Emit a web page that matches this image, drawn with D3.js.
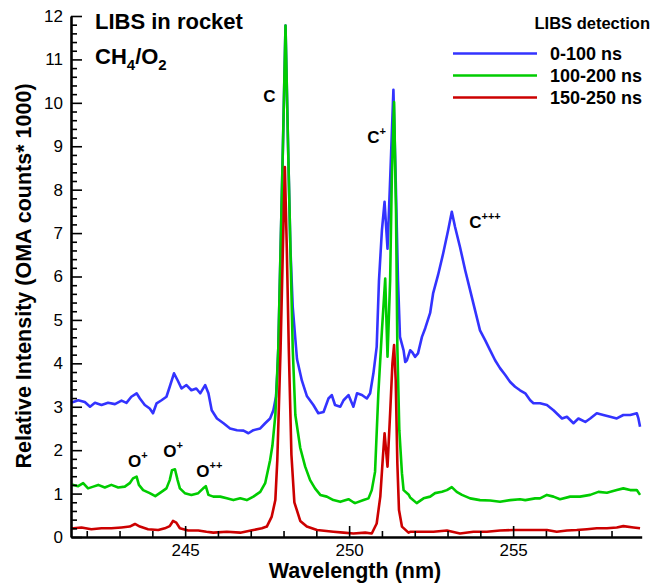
<!DOCTYPE html>
<html>
<head>
<meta charset="utf-8">
<script src="https://cdn.jsdelivr.net/npm/d3@7"></script>
<style>
  html, body { margin: 0; padding: 0; background: #fff; }
  svg { display: block; font-family: "Liberation Sans", Arial, sans-serif; }
</style>
</head>
<body>
<svg id="chart" width="654" height="583"></svg>
<script>
// Emission spectra, [wavelength (nm), intensity (OMA counts / 1000)]
const spectrum0to100 = [
  [241.52, 3.10], [241.59, 3.11], [241.74, 3.15], [241.94, 3.11], [242.10, 3.00],
  [242.25, 3.09], [242.45, 3.04], [242.65, 3.09], [242.86, 3.06], [243.06, 3.14],
  [243.21, 3.09], [243.36, 3.23], [243.52, 3.31], [243.62, 3.19], [243.77, 3.04],
  [243.92, 2.96], [244.02, 2.85], [244.13, 3.08], [244.28, 3.15], [244.43, 3.23],
  [244.53, 3.46], [244.66, 3.77], [244.77, 3.61], [244.89, 3.42], [245.04, 3.50],
  [245.19, 3.38], [245.34, 3.42], [245.46, 3.31], [245.61, 3.50], [245.71, 3.31],
  [245.81, 2.92], [245.97, 2.73], [246.17, 2.62], [246.37, 2.50], [246.58, 2.46],
  [246.78, 2.45], [246.93, 2.39], [247.08, 2.46], [247.29, 2.50], [247.44, 2.62],
  [247.59, 2.73], [247.69, 2.92], [247.77, 3.23], [247.81, 3.77], [247.84, 4.34],
  [247.91, 6.64], [247.98, 8.95], [248.06, 11.78], [248.14, 8.95], [248.21, 6.64],
  [248.28, 5.30], [248.41, 4.10],
  [248.56, 3.60], [248.71, 3.25], [248.91, 3.04], [249.06, 2.85], [249.22, 2.88],
  [249.37, 3.19], [249.47, 3.27], [249.57, 3.04], [249.73, 3.00], [249.83, 3.15],
  [249.98, 3.27], [250.13, 3.00], [250.24, 3.31], [250.39, 3.27], [250.54, 3.19],
  [250.64, 3.31], [250.74, 3.77], [250.84, 4.38], [250.91, 5.91], [251.00, 7.07],
  [251.08, 7.72], [251.17, 6.64], [251.25, 8.22], [251.35, 10.30], [251.42, 8.22],
  [251.49, 5.91], [251.55, 4.61], [251.66, 4.30], [251.71, 4.03], [251.76, 4.07],
  [251.86, 4.30], [251.93, 4.25], [252.01, 4.15], [252.10, 4.23], [252.22, 4.61],
  [252.32, 4.81], [252.47, 5.16], [252.56, 5.61], [252.71, 6.03], [252.87, 6.54],
  [253.02, 7.07], [253.13, 7.49], [253.23, 7.14], [253.38, 6.68], [253.54, 6.14],
  [253.69, 5.68], [253.84, 5.22], [253.99, 4.76], [254.15, 4.53], [254.30, 4.30],
  [254.45, 4.07], [254.60, 3.89], [254.76, 3.73], [254.91, 3.57], [255.06, 3.46],
  [255.21, 3.38], [255.37, 3.31], [255.52, 3.15], [255.62, 3.08], [255.82, 3.08],
  [256.03, 3.04], [256.23, 2.92], [256.49, 2.73], [256.64, 2.77], [256.84, 2.62],
  [256.99, 2.73], [257.20, 2.65], [257.35, 2.73], [257.55, 2.85], [257.75, 2.81],
  [257.96, 2.77], [258.16, 2.73], [258.36, 2.81], [258.57, 2.81], [258.77, 2.85],
  [258.82, 2.73], [258.87, 2.54]
];

const spectrum100to200 = [
  [241.52, 1.20], [241.59, 1.20], [241.74, 1.17], [241.89, 1.24], [242.04, 1.12],
  [242.20, 1.16], [242.35, 1.20], [242.55, 1.14], [242.75, 1.20], [242.96, 1.14],
  [243.16, 1.16], [243.31, 1.24], [243.41, 1.35], [243.52, 1.39], [243.59, 1.20],
  [243.72, 1.08], [243.92, 1.01], [244.09, 0.94], [244.28, 1.04], [244.43, 1.12],
  [244.53, 1.31], [244.60, 1.54], [244.69, 1.56], [244.77, 1.31], [244.84, 1.12],
  [244.99, 1.01], [245.19, 0.97], [245.40, 1.01], [245.55, 1.12], [245.63, 1.17],
  [245.71, 0.97], [245.86, 0.93], [246.07, 0.93], [246.27, 0.89], [246.47, 0.85],
  [246.68, 0.89], [246.88, 0.85], [247.08, 0.93], [247.29, 1.04], [247.44, 1.24],
  [247.59, 1.77], [247.66, 2.10], [247.75, 2.81], [247.84, 4.34], [247.91, 6.64],
  [247.98, 8.95], [248.06, 11.78], [248.14, 8.95], [248.21, 6.64], [248.28, 4.34],
  [248.36, 2.81], [248.51, 2.05], [248.66, 1.62], [248.81, 1.31], [248.96, 1.12],
  [249.12, 0.97], [249.32, 0.93], [249.52, 0.85], [249.73, 0.81], [249.98, 0.87],
  [250.13, 0.80], [250.18, 0.78], [250.44, 0.85], [250.59, 0.89], [250.69, 1.08],
  [250.79, 1.50], [250.89, 3.30], [251.00, 4.76], [251.10, 5.95], [251.17, 4.15],
  [251.25, 5.91], [251.30, 8.22], [251.37, 10.02], [251.43, 7.45], [251.47, 4.38],
  [251.53, 2.46], [251.61, 1.47], [251.66, 1.08], [251.81, 0.98], [251.86, 0.91],
  [252.06, 0.78], [252.27, 0.89], [252.47, 0.93], [252.62, 1.01], [252.83, 1.04],
  [252.98, 1.08], [253.13, 1.15], [253.28, 1.04], [253.44, 0.97], [253.69, 0.89],
  [253.99, 0.85], [254.30, 0.84], [254.60, 0.81], [254.91, 0.85], [255.21, 0.87],
  [255.37, 0.85], [255.67, 0.89], [255.82, 0.89], [256.03, 0.97], [256.23, 0.93],
  [256.43, 0.87], [256.74, 0.93], [257.04, 0.93], [257.35, 0.97], [257.60, 1.04],
  [257.86, 1.02], [258.16, 1.08], [258.36, 1.12], [258.57, 1.08], [258.77, 1.08],
  [258.87, 0.97]
];

const spectrum150to250 = [
  [241.52, 0.20], [241.59, 0.20], [241.84, 0.22], [242.14, 0.18], [242.45, 0.20],
  [242.75, 0.20], [243.06, 0.22], [243.31, 0.24], [243.47, 0.30], [243.62, 0.24],
  [243.87, 0.18], [244.18, 0.16], [244.38, 0.20], [244.53, 0.25], [244.63, 0.37],
  [244.73, 0.33], [244.84, 0.20], [245.09, 0.15], [245.40, 0.15], [245.65, 0.12],
  [245.86, 0.10], [246.27, 0.12], [246.68, 0.10], [247.08, 0.16], [247.34, 0.20],
  [247.49, 0.24], [247.64, 0.47], [247.75, 0.85], [247.81, 1.77], [247.91, 4.34],
  [247.98, 6.64], [248.04, 8.52], [248.10, 6.64], [248.16, 4.34], [248.24, 1.90],
  [248.33, 0.80], [248.51, 0.37], [248.71, 0.24], [249.02, 0.16], [249.52, 0.12],
  [249.83, 0.10], [250.13, 0.08], [250.49, 0.10], [250.69, 0.08], [250.84, 0.31],
  [250.95, 0.93], [251.03, 1.85], [251.08, 2.39], [251.17, 1.62], [251.25, 2.85],
  [251.32, 4.00], [251.37, 4.42], [251.42, 3.61], [251.47, 1.70], [251.52, 0.62],
  [251.61, 0.24], [251.81, 0.10], [251.86, 0.12], [252.16, 0.12], [252.57, 0.12],
  [252.98, 0.15], [253.38, 0.08], [253.79, 0.12], [254.20, 0.12], [254.60, 0.15],
  [255.01, 0.16], [255.42, 0.16], [255.82, 0.16], [256.03, 0.16], [256.33, 0.12],
  [256.64, 0.15], [256.94, 0.16], [257.25, 0.18], [257.55, 0.20], [257.86, 0.20],
  [258.16, 0.22], [258.36, 0.25], [258.67, 0.22], [258.87, 0.20]
];

const seriesNames = ["0-100 ns", "100-200 ns", "150-250 ns"];
const seriesData = [spectrum0to100, spectrum100to200, spectrum150to250];
const seriesColors = ["#3333ff", "#00cc00", "#cc0000"];

const xMajorTicks = [245, 250, 255];
const xMinorTicks = [242, 243, 244, 246, 247, 248, 249, 251, 252, 253, 254, 256, 257, 258];
const yMajorTicks = [0, 1, 2, 3, 4, 5, 6, 7, 8, 9, 10, 11, 12];
const yMinorTicks = d3.range(0, 60).map(i => i / 5).filter(v => !Number.isInteger(v));

// Peak annotations: base label, superscript, wavelength, intensity at baseline
const peakLabels = [
  { text: "C",  sup: "",    wl: 247.38, v: 10.03 },
  { text: "C",  sup: "+",   wl: 250.55, v: 9.07 },
  { text: "C",  sup: "+++", wl: 253.66, v: 7.12 },
  { text: "O",  sup: "+",   wl: 243.26, v: 1.62 },
  { text: "O",  sup: "+",   wl: 244.33, v: 1.84 },
  { text: "O",  sup: "++",  wl: 245.34, v: 1.39 }
];

const svg = d3.select("#chart");
const plotLeft = 71, plotRight = 641.7, plotTop = 16, plotBottom = 537;

const x = d3.scaleLinear().domain([241.52, 258.92]).range([plotLeft, plotRight]);
const y = d3.scaleLinear().domain([0, 12]).range([plotBottom, plotTop]);

svg.append("defs").append("clipPath").attr("id", "plotClip")
  .append("rect")
  .attr("x", plotLeft).attr("y", 0)
  .attr("width", plotRight - plotLeft).attr("height", plotBottom);

// Spectra
const line = d3.line().x(d => x(d[0])).y(d => y(d[1]));
const lines = svg.append("g").attr("clip-path", "url(#plotClip)");
seriesData.forEach((data, i) => {
  lines.append("path")
    .datum(data)
    .attr("fill", "none")
    .attr("stroke", seriesColors[i])
    .attr("stroke-width", 2.6)
    .attr("stroke-linejoin", "round")
    .attr("d", line);
});

// Axes (ticks pointing inward)
const axisStyle = g => {
  g.selectAll(".domain").attr("stroke", "#000").attr("stroke-width", 2.6);
  g.selectAll(".tick line").attr("stroke", "#000").attr("stroke-width", 1.6);
  g.selectAll("text").attr("fill", "#000").attr("font-size", 17)
    .attr("font-family", "'Liberation Sans', Arial, sans-serif");
};

svg.append("g")
  .attr("transform", `translate(0,${plotBottom})`)
  .call(d3.axisBottom(x).tickValues(xMinorTicks).tickSize(-6).tickSizeOuter(0).tickFormat(""))
  .call(g => g.select(".domain").remove())
  .call(axisStyle);

svg.append("g")
  .attr("transform", `translate(0,${plotBottom})`)
  .call(d3.axisBottom(x).tickValues(xMajorTicks).tickSize(-11).tickSizeOuter(0).tickPadding(7).tickFormat(d3.format("d")))
  .call(axisStyle);

svg.append("g")
  .attr("transform", `translate(${plotLeft},0)`)
  .call(d3.axisLeft(y).tickValues(yMinorTicks).tickSize(-6).tickSizeOuter(0).tickFormat(""))
  .call(g => g.select(".domain").remove())
  .call(axisStyle);

svg.append("g")
  .attr("transform", `translate(${plotLeft},0)`)
  .call(d3.axisLeft(y).tickValues(yMajorTicks).tickSize(-11).tickSizeOuter(0).tickPadding(8).tickFormat(d3.format("d")))
  .call(axisStyle);

// Axis titles
svg.append("text")
  .attr("x", 355).attr("y", 578)
  .attr("text-anchor", "middle")
  .attr("font-size", 21.5).attr("font-weight", "bold")
  .text("Wavelength (nm)");

svg.append("text")
  .attr("transform", "translate(31,276) rotate(-90)")
  .attr("text-anchor", "middle")
  .attr("font-size", 21.5).attr("font-weight", "bold")
  .text("Relative Intensity (OMA counts* 1000)");

// Title block
svg.append("text")
  .attr("x", 95).attr("y", 29)
  .attr("font-size", 22).attr("font-weight", "bold")
  .text("LIBS in rocket");

const formula = svg.append("text")
  .attr("x", 95).attr("y", 64)
  .attr("font-size", 22).attr("font-weight", "bold");
formula.append("tspan").text("CH");
formula.append("tspan").attr("font-size", 15).attr("dy", 6).text("4");
formula.append("tspan").attr("dy", -6).text("/O");
formula.append("tspan").attr("font-size", 15).attr("dy", 6).text("2");

// Peak labels
peakLabels.forEach(p => {
  const t = svg.append("text")
    .attr("x", x(p.wl)).attr("y", y(p.v))
    .attr("font-size", 17).attr("font-weight", "bold");
  t.append("tspan").text(p.text);
  if (p.sup) {
    t.append("tspan").attr("font-size", 11).attr("dy", -8).text(p.sup);
  }
});

// Legend
const legend = svg.append("g");
legend.append("text")
  .attr("x", 650).attr("y", 29)
  .attr("text-anchor", "end")
  .attr("font-size", 16.5).attr("font-weight", "bold")
  .text("LIBS detection");

seriesNames.forEach((name, i) => {
  const baseY = 59.5 + i * 22;
  legend.append("line")
    .attr("x1", 453).attr("x2", 537)
    .attr("y1", baseY - 6).attr("y2", baseY - 6)
    .attr("stroke", seriesColors[i]).attr("stroke-width", 2.6);
  legend.append("text")
    .attr("x", 550).attr("y", baseY)
    .attr("font-size", 18).attr("font-weight", "bold")
    .text(name);
});
</script>
</body>
</html>
